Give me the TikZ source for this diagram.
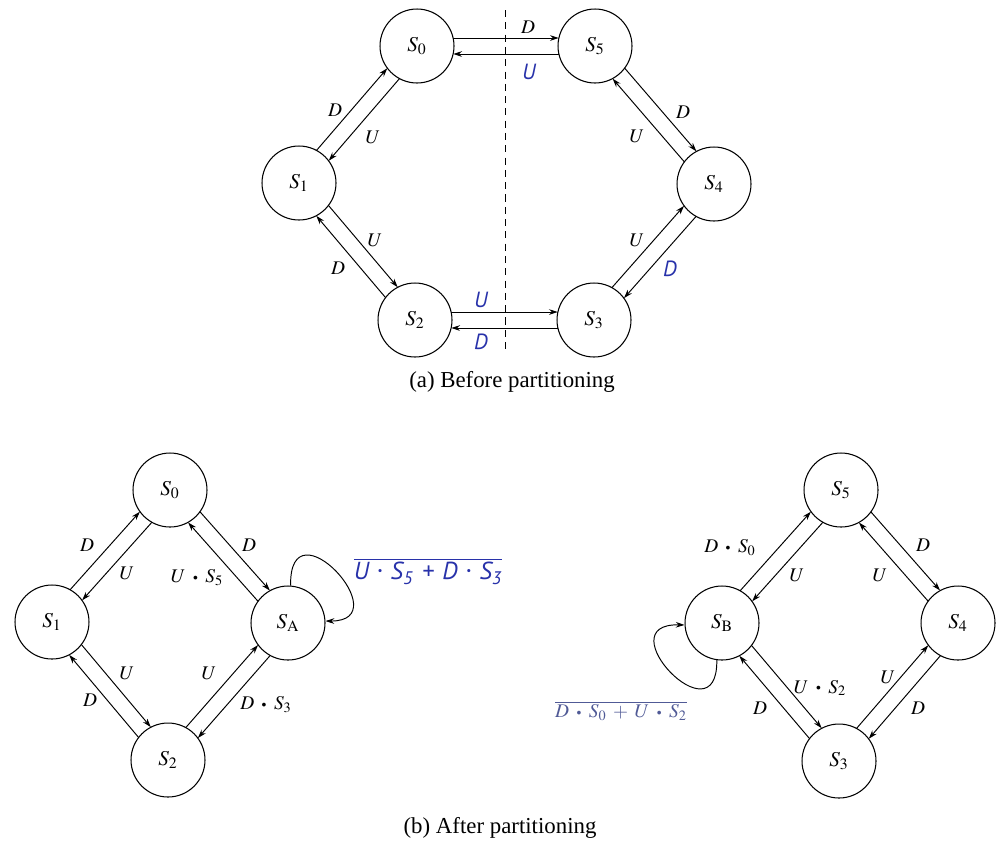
\documentclass[tikz,border=0pt]{standalone}
\usepackage{mathptmx}
\usepackage[no-math]{fontspec}
\setmainfont{Liberation Serif}
\newfontfamily\bsans{PT Sans}
\usepackage{graphicx}
\usetikzlibrary{arrows.meta,calc}
\definecolor{lblue}{RGB}{40,50,170}
\definecolor{gblue}{RGB}{80,90,150}
\newcommand{\bdot}{\mathord{\mskip7mu\vcenter{\hbox{\scalebox{0.5}{$\bullet$}}}\mskip7mu}}
\newcommand{\bplus}{\mathord{\mskip6mu+\mskip6mu}}
\newcommand{\sdot}{\hspace{0.34em}\raisebox{0.22em}{\scalebox{0.45}{\textbullet}}\hspace{0.34em}}
\newcommand{\pairedge}[3][]{\draw[arr,#1] ($(#2)!0.16cm!90:(#3)$) -- ($(#3)!0.16cm!-90:(#2)$);}
\tikzset{
  state/.style={circle, draw, line width=0.6pt, minimum size=1.48cm, inner sep=0pt, font=\fontsize{12}{14}\selectfont},
  lbl/.style={font=\fontsize{11}{13}\selectfont, inner sep=0pt},
  blbl/.style={inner sep=0pt, text=lblue, font=\bsans\itshape\fontsize{12.5}{14}\selectfont},
  captxt/.style={font=\fontsize{13}{15}\selectfont, inner sep=0pt},
  arr/.style={-{Stealth[length=5pt,width=3.2pt]}, line width=0.55pt, shorten <=0.72cm, shorten >=0.725cm},
  selfloop/.style={-{Stealth[length=5pt,width=3.2pt]}, line width=0.55pt}
}
\begin{document}
\begin{tikzpicture}[x=0.02cm,y=-0.02cm]
\useasboundingbox (0,0) rectangle (999,843);
% ---------- (a) ----------
\node[state] (a0) at (417,46) {$S_0$};
\node[state] (a5) at (595,46) {$S_5$};
\node[state] (a1) at (299,183) {$S_1$};
\node[state] (a4) at (714,184) {$S_4$};
\node[state] (a2) at (415,320) {$S_2$};
\node[state] (a3) at (594,320) {$S_3$};
\coordinate (dtop) at (505,10);
\coordinate (dbot) at (505,352);
\draw[dash pattern=on 4pt off 3pt, line width=0.55pt] (dtop) -- (dbot);
\pairedge{a0}{a5}
\pairedge{a5}{a0}
\pairedge{a1}{a0}
\pairedge{a0}{a1}
\pairedge{a5}{a4}
\pairedge{a4}{a5}
\pairedge{a1}{a2}
\pairedge{a2}{a1}
\pairedge{a3}{a4}
\pairedge{a4}{a3}
\pairedge{a2}{a3}
\pairedge{a3}{a2}
\node[lbl] (la1) at (528,27) {$D$};
\node[blbl] (la2) at (529,72) {U};
\node[lbl] (la3) at (335,110) {$D$};
\node[lbl] (la4) at (373,137) {$U$};
\node[lbl] (la5) at (683,112) {$D$};
\node[lbl] (la6) at (637,136) {$U$};
\node[lbl] (la7) at (375,240) {$U$};
\node[lbl] (la8) at (338,268) {$D$};
\node[lbl] (la9) at (637,240) {$U$};
\node[blbl] (la10) at (670,269) {D};
\node[blbl] (la11) at (481,300) {U};
\node[blbl] (la12) at (481,342) {D};
\node[captxt] (capa) at (512,382) {(a) Before partitioning};
% ---------- (b) left ----------
\node[state] (b0) at (170,490) {$S_0$};
\node[state] (b1) at (52,622) {$S_1$};
\node[state] (bA) at (288,623) {$S_{\mathrm{A}}$};
\node[state] (b2) at (168,760) {$S_2$};
\pairedge{b1}{b0}
\pairedge{b0}{b1}
\pairedge{b0}{bA}
\pairedge{bA}{b0}
\pairedge{b1}{b2}
\pairedge{b2}{b1}
\pairedge{b2}{bA}
\pairedge{bA}{b2}
\draw[selfloop] (bA.86) .. controls (289,500) and (400,621) .. (bA.3);
\node[lbl] (lb1) at (87,545) {$D$};
\node[lbl] (lb2) at (127,573) {$U$};
\node[lbl] (lb3) at (197,578) {$U\bdot S_5$};
\node[lbl] (lb4) at (249,545) {$D$};
\node[lbl] (lb5) at (127,673) {$U$};
\node[lbl] (lb6) at (90,700) {$D$};
\node[lbl] (lb7) at (209,673) {$U$};
\node[lbl] (lb8) at (266,705) {$D\bdot S_3$};
\node[blbl, font=\bsans\itshape\fontsize{14}{16}\selectfont] (lb9) at (428,571) {$\overline{\hbox{U\sdot S\textsubscript{5}\hspace{0.35em}+\hspace{0.35em}D\sdot S\textsubscript{3}}}$};
% ---------- (b) right ----------
\node[state] (c5) at (841,490) {$S_5$};
\node[state] (cB) at (722,623) {$S_{\mathrm{B}}$};
\node[state] (c4) at (958,623) {$S_4$};
\node[state] (c3) at (839,761) {$S_3$};
\pairedge{cB}{c5}
\pairedge{c5}{cB}
\pairedge{c5}{c4}
\pairedge{c4}{c5}
\pairedge{cB}{c3}
\pairedge{c3}{cB}
\pairedge{c3}{c4}
\pairedge{c4}{c3}
\draw[selfloop] (cB.262) .. controls (718,742) and (605,623) .. (cB.183);
\node[lbl] (lc1) at (730,548) {$D\bdot S_0$};
\node[lbl] (lc2) at (797,575) {$U$};
\node[lbl] (lc3) at (923,545) {$D$};
\node[lbl] (lc4) at (880,575) {$U$};
\node[lbl] (lc5) at (820,688) {$U\bdot S_2$};
\node[lbl] (lc6) at (760,708) {$D$};
\node[lbl] (lc7) at (888,677) {$U$};
\node[lbl] (lc8) at (918,708) {$D$};
\node[lbl, text=gblue] (lc9) at (621,711) {$\overline{D\bdot S_0\bplus U\bdot S_2}$};
\node[captxt] (capb) at (500,828) {(b) After partitioning};
\end{tikzpicture}
\end{document}
